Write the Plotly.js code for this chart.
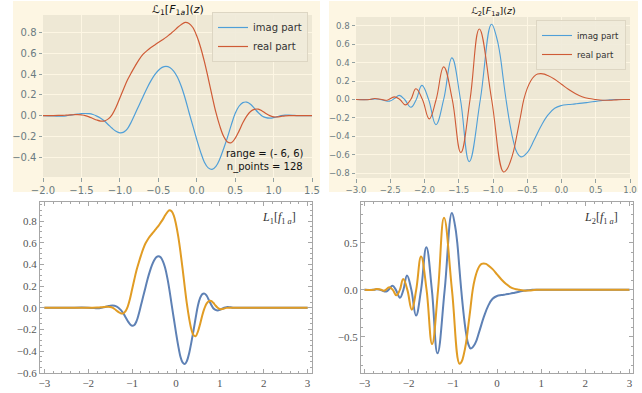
<!DOCTYPE html>
<html><head><meta charset="utf-8">
<script src="https://cdn.plot.ly/plotly-3.0.1.min.js"></script>
<style>html,body{margin:0;padding:0;background:#fff;} #chart{width:642px;height:393px;}</style>
</head><body><div id="chart"></div>
<script>
// ---- data ----
const L1_x = [-3.0,-2.5,-2.0,-1.9,-1.8,-1.75,-1.7,-1.65,-1.6,-1.55,-1.5,-1.45,-1.4,-1.35,-1.3,-1.25,-1.2,-1.15,-1.1,-1.05,-1.0,-0.95,-0.9,-0.85,-0.8,-0.75,-0.7,-0.65,-0.6,-0.55,-0.5,-0.45,-0.4,-0.35,-0.3,-0.25,-0.2,-0.15,-0.1,-0.05,0.0,0.05,0.1,0.15,0.2,0.25,0.3,0.35,0.4,0.45,0.5,0.55,0.6,0.65,0.7,0.75,0.8,0.85,0.9,0.95,1.0,1.05,1.1,1.15,1.2,1.25,1.3,1.5,2.0,2.5,3.0];
const L1_imag = [0,0,0,-0.003,-0.006,-0.005,-0.002,0.003,0.009,0.014,0.018,0.02,0.018,0.01,-0.005,-0.025,-0.053,-0.088,-0.123,-0.152,-0.167,-0.16,-0.125,-0.06,0.02,0.1,0.18,0.26,0.33,0.39,0.435,0.465,0.475,0.465,0.43,0.37,0.28,0.165,0.03,-0.1,-0.23,-0.35,-0.45,-0.505,-0.52,-0.49,-0.42,-0.32,-0.21,-0.09,0.02,0.09,0.125,0.13,0.11,0.07,0.03,-0.005,-0.02,-0.025,-0.02,-0.01,0.0,0.005,0.005,0.003,0.0,0,0,0,0];
const L1_real = [0,0,0,0,0.001,0.002,0.004,0.006,0.008,0.009,0.006,0.0,-0.012,-0.028,-0.043,-0.053,-0.052,-0.032,0.01,0.08,0.17,0.26,0.345,0.415,0.48,0.54,0.59,0.625,0.655,0.68,0.705,0.73,0.755,0.785,0.815,0.85,0.88,0.9,0.89,0.85,0.77,0.66,0.52,0.36,0.19,0.03,-0.1,-0.2,-0.255,-0.262,-0.22,-0.15,-0.07,-0.005,0.04,0.06,0.062,0.045,0.02,0.0,-0.012,-0.013,-0.007,-0.002,0.0,0.0,0.0,0,0,0,0];

const L2_imag_x = [-3.0,-2.8,-2.72,-2.66,-2.6,-2.51,-2.44,-2.368,-2.29,-2.198,-2.12,-2.038,-1.94,-1.834,-1.72,-1.6,-1.475,-1.347,-1.185,-1.022,-0.95,-0.9,-0.85,-0.81,-0.75,-0.7,-0.65,-0.594,-0.5,-0.4,-0.3,-0.2,-0.1,0.0,0.1,0.2,0.3,0.4,0.5,0.6,0.7,0.8,1.0,2.0,3.0];
const L2_imag = [0,0,0.006,0.002,-0.008,-0.018,0.01,0.044,0.0,-0.084,0.0,0.153,0.0,-0.273,0.0,0.451,0.0,-0.673,0.0,0.815,0.68,0.5,0.22,0.0,-0.28,-0.46,-0.575,-0.622,-0.575,-0.44,-0.29,-0.17,-0.095,-0.065,-0.055,-0.048,-0.04,-0.03,-0.02,-0.01,-0.004,0.0,0.0,0,0];
const L2_real_x = [-3.0,-2.8,-2.73,-2.64,-2.55,-2.44,-2.36,-2.28,-2.2,-2.125,-2.03,-1.93,-1.83,-1.72,-1.595,-1.47,-1.335,-1.2,-1.02,-0.847,-0.8,-0.75,-0.7,-0.65,-0.6,-0.55,-0.5,-0.45,-0.4,-0.35,-0.3,-0.25,-0.2,-0.1,0.0,0.1,0.2,0.3,0.4,0.5,0.6,0.7,0.8,0.9,1.0,2.0,3.0];
const L2_real = [0,0,0.01,0.003,-0.008,0.028,0.0,-0.058,0.0,0.116,0.0,-0.21,0.0,0.353,0.0,-0.575,0.0,0.764,0.0,-0.785,-0.76,-0.68,-0.56,-0.38,-0.19,0.0,0.12,0.2,0.25,0.275,0.28,0.275,0.26,0.22,0.165,0.11,0.065,0.03,0.01,0.0,-0.008,-0.008,-0.004,0.0,0.0,0,0];

const seriesNames = ['imag part', 'real part'];
const topTitles = ['ℒ<sub>1</sub>[<i>F</i><sub>1<i>a</i></sub>](<i>z</i>)', 'ℒ<sub>2</sub>[<i>F</i><sub>1<i>a</i></sub>](<i>z</i>)'];
const bottomLabels = ['<i>L</i><sub>1</sub>[<i>f</i><sub>1 <i>a</i></sub>]', '<i>L</i><sub>2</sub>[<i>f</i><sub>1 <i>a</i></sub>]'];
const infoText = 'range = (- 6, 6)<br>n_points = 128';

// ---- styles ----
const W = 642, H = 393;
const px = v => v / W, py = v => 1 - v / H;
const mplBlue = '#4f9fd8', mplRed = '#cf5b36';
const mmaBlue = '#5E81B5', mmaOrange = '#E19C24';

function mplAxis(d0, d1, range, dtick, anchor, fs) {
  return {domain:[d0, d1], range, anchor, tickmode:'linear', tick0:0, dtick, tickformat:'.1f',
    showgrid:true, gridcolor:'#FDF6E3', gridwidth:1, zeroline:false, showline:false,
    ticks:'outside', ticklen:3.5, tickwidth:1, tickcolor:'#93a1a1',
    tickfont:{family:'DejaVu Sans', size:fs, color:'#6b7b81'}};
}
function mmaAxis(d0, d1, range, dtick, minorD, anchor, fmt) {
  const a = {domain:[d0, d1], range, anchor, tickmode:'linear', tick0:0, dtick,
    showgrid:false, zeroline:false, showline:true, linecolor:'#a6a6a6', linewidth:1, mirror:'ticks',
    ticks:'inside', ticklen:4, tickwidth:1, tickcolor:'#a6a6a6',
    minor:{dtick:minorD, ticks:'inside', ticklen:2.2, tickcolor:'#a6a6a6', tickwidth:1, showgrid:false},
    tickfont:{family:'Liberation Serif', size:11, color:'#555'}};
  if (fmt) a.tickformat = fmt;
  return a;
}

const traces = [
  {x:L1_x, y:L1_imag, name:seriesNames[0], xaxis:'x', yaxis:'y', mode:'lines', line:{color:mplBlue, width:1.2, shape:'spline'}, legend:'legend'},
  {x:L1_x, y:L1_real, name:seriesNames[1], xaxis:'x', yaxis:'y', mode:'lines', line:{color:mplRed, width:1.2, shape:'spline'}, legend:'legend'},
  {x:L2_imag_x, y:L2_imag, name:seriesNames[0], xaxis:'x2', yaxis:'y2', mode:'lines', line:{color:mplBlue, width:1.1, shape:'spline', smoothing:1.2}, legend:'legend2'},
  {x:L2_real_x, y:L2_real, name:seriesNames[1], xaxis:'x2', yaxis:'y2', mode:'lines', line:{color:mplRed, width:1.1, shape:'spline', smoothing:1.2}, legend:'legend2'},
  {x:L1_x, y:L1_imag, xaxis:'x3', yaxis:'y3', mode:'lines', showlegend:false, line:{color:mmaBlue, width:2, shape:'spline'}},
  {x:L1_x, y:L1_real, xaxis:'x3', yaxis:'y3', mode:'lines', showlegend:false, line:{color:mmaOrange, width:2, shape:'spline'}},
  {x:L2_imag_x, y:L2_imag, xaxis:'x4', yaxis:'y4', mode:'lines', showlegend:false, line:{color:mmaBlue, width:2, shape:'spline', smoothing:1.2}},
  {x:L2_real_x, y:L2_real, xaxis:'x4', yaxis:'y4', mode:'lines', showlegend:false, line:{color:mmaOrange, width:2, shape:'spline', smoothing:1.2}}
];

const layout = {
  width:W, height:H, margin:{l:0,r:0,t:0,b:0},
  paper_bgcolor:'#ffffff', plot_bgcolor:'rgba(0,0,0,0)', showlegend:true,
  xaxis: mplAxis(px(43), px(312), [-2, 1.5], 0.5, 'y', 10),
  yaxis: mplAxis(py(177), py(15), [-0.593, 0.971], 0.2, 'x', 10),
  xaxis2: mplAxis(px(356), px(630), [-3, 1], 0.5, 'y2', 8.6),
  yaxis2: mplAxis(py(178), py(17), [-0.851, 0.894], 0.2, 'x2', 8.6),
  xaxis3: mmaAxis(px(40), px(312), [-3.1, 3.1], 1, 0.2, 'y3'),
  yaxis3: mmaAxis(py(373), py(201.5), [-0.603, 0.98], 0.2, 0.05, 'x3', '.1f'),
  xaxis4: mmaAxis(px(361), px(633), [-3.08, 3.08], 1, 0.2, 'y4'),
  yaxis4: mmaAxis(py(373), py(201.5), [-0.882, 0.937], 0.5, 0.1, 'x4', '.1f'),
  legend: {x:px(308), xanchor:'right', y:py(12), yanchor:'top', bgcolor:'rgba(240,235,218,0.9)', bordercolor:'#ddd6c3', borderwidth:1,
    font:{family:'DejaVu Sans', size:10, color:'#333'}, itemwidth:30, tracegroupgap:0},
  legend2: {x:px(626), xanchor:'right', y:py(20), yanchor:'top', bgcolor:'rgba(240,235,218,0.9)', bordercolor:'#ddd6c3', borderwidth:1,
    font:{family:'DejaVu Sans', size:8.5, color:'#333'}, itemwidth:30, tracegroupgap:0},
  shapes: [
    {type:'rect', xref:'paper', yref:'paper', x0:px(13), x1:px(320), y0:py(192), y1:py(1), fillcolor:'#FDF6E3', line:{width:0}, layer:'below'},
    {type:'rect', xref:'paper', yref:'paper', x0:px(329), x1:px(638), y0:py(192), y1:py(1), fillcolor:'#FDF6E3', line:{width:0}, layer:'below'},
    {type:'rect', xref:'x domain', yref:'y domain', x0:0, x1:1, y0:0, y1:1, fillcolor:'#EEE8D5', line:{width:0}, layer:'below'},
    {type:'rect', xref:'x2 domain', yref:'y2 domain', x0:0, x1:1, y0:0, y1:1, fillcolor:'#EEE8D5', line:{width:0}, layer:'below'}
  ],
  annotations: [
    {text:topTitles[0], xref:'paper', yref:'paper', x:px(177.5), y:py(10), xanchor:'center', yanchor:'middle', showarrow:false, font:{family:'DejaVu Sans', size:11, color:'#111'}},
    {text:topTitles[1], xref:'paper', yref:'paper', x:px(493), y:py(11.5), xanchor:'center', yanchor:'middle', showarrow:false, font:{family:'DejaVu Sans', size:9.5, color:'#111'}},
    {text:infoText, xref:'paper', yref:'paper', x:px(264.5), y:py(160), xanchor:'center', yanchor:'middle', align:'center', showarrow:false, font:{family:'DejaVu Sans', size:10, color:'#111'}},
    {text:bottomLabels[0], xref:'paper', yref:'paper', x:px(298), y:py(218), xanchor:'right', yanchor:'middle', showarrow:false, font:{family:'Liberation Serif', size:12, color:'#333'}},
    {text:bottomLabels[1], xref:'paper', yref:'paper', x:px(620), y:py(218), xanchor:'right', yanchor:'middle', showarrow:false, font:{family:'Liberation Serif', size:12, color:'#333'}}
  ]
};

Plotly.newPlot('chart', traces, layout, {displayModeBar:false, staticPlot:true});
</script>
</body></html>
